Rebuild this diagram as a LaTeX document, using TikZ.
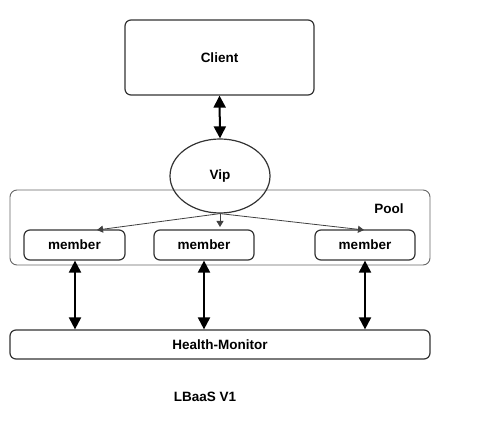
\documentclass[tikz,border=0pt]{standalone}
\usepackage{fontspec}
\setmainfont{Liberation Sans}
\usetikzlibrary{shapes.geometric,arrows.meta}

\tikzset{
  box/.style={draw=black!80,line width=1.2pt,rounded corners=6pt,align=center},
  bigarrow/.style={line width=2pt,{Triangle[length=12pt,width=12pt]}-{Triangle[length=12pt,width=12pt]}},
  thinarrow/.style={draw=black!75,line width=0.8pt,-{Triangle[length=6pt,width=7pt]}}
}

\begin{document}
\begin{tikzpicture}[x=1pt,y=-1pt,font=\fontsize{13.5}{15}\selectfont\bfseries]
\useasboundingbox (0,0) rectangle (479,430);
% pool frame
\draw[black!60,line width=0.9pt,rounded corners=7pt] (10,190) rectangle (430,265);
\node at (389,209) {Pool};
% nodes
\node[box,minimum width=189pt,minimum height=75pt] (client) at (219.5,57.5) {Client};
\node[draw=black!80,line width=1.2pt,ellipse,minimum width=100pt,minimum height=74pt] (vip) at (220,176) {Vip};
\node[box,minimum width=101pt,minimum height=30pt] (m1) at (74.5,245) {member};
\node[box,minimum width=100pt,minimum height=30pt] (m2) at (204,245) {member};
\node[box,minimum width=100pt,minimum height=30pt] (m3) at (365,245) {member};
\node[box,minimum width=420pt,minimum height=29pt] (hm) at (220,344.5) {Health-Monitor};
\node (title) at (205,397) {LBaaS V1};
% links
\draw[bigarrow] (client.south) -- (vip.north);
\coordinate (vbot) at (vip.south);
\draw[thinarrow] (vbot) -- (97,230);
\draw[thinarrow] (vbot) -- (220,227);
\draw[thinarrow] (vbot) -- (364,230);
\draw[bigarrow] (m1.south -| 75,0) -- (hm.north -| 75,0);
\draw[bigarrow] (m2.south) -- (hm.north -| m2.south);
\draw[bigarrow] (m3.south) -- (hm.north -| m3.south);
\end{tikzpicture}
\end{document}
